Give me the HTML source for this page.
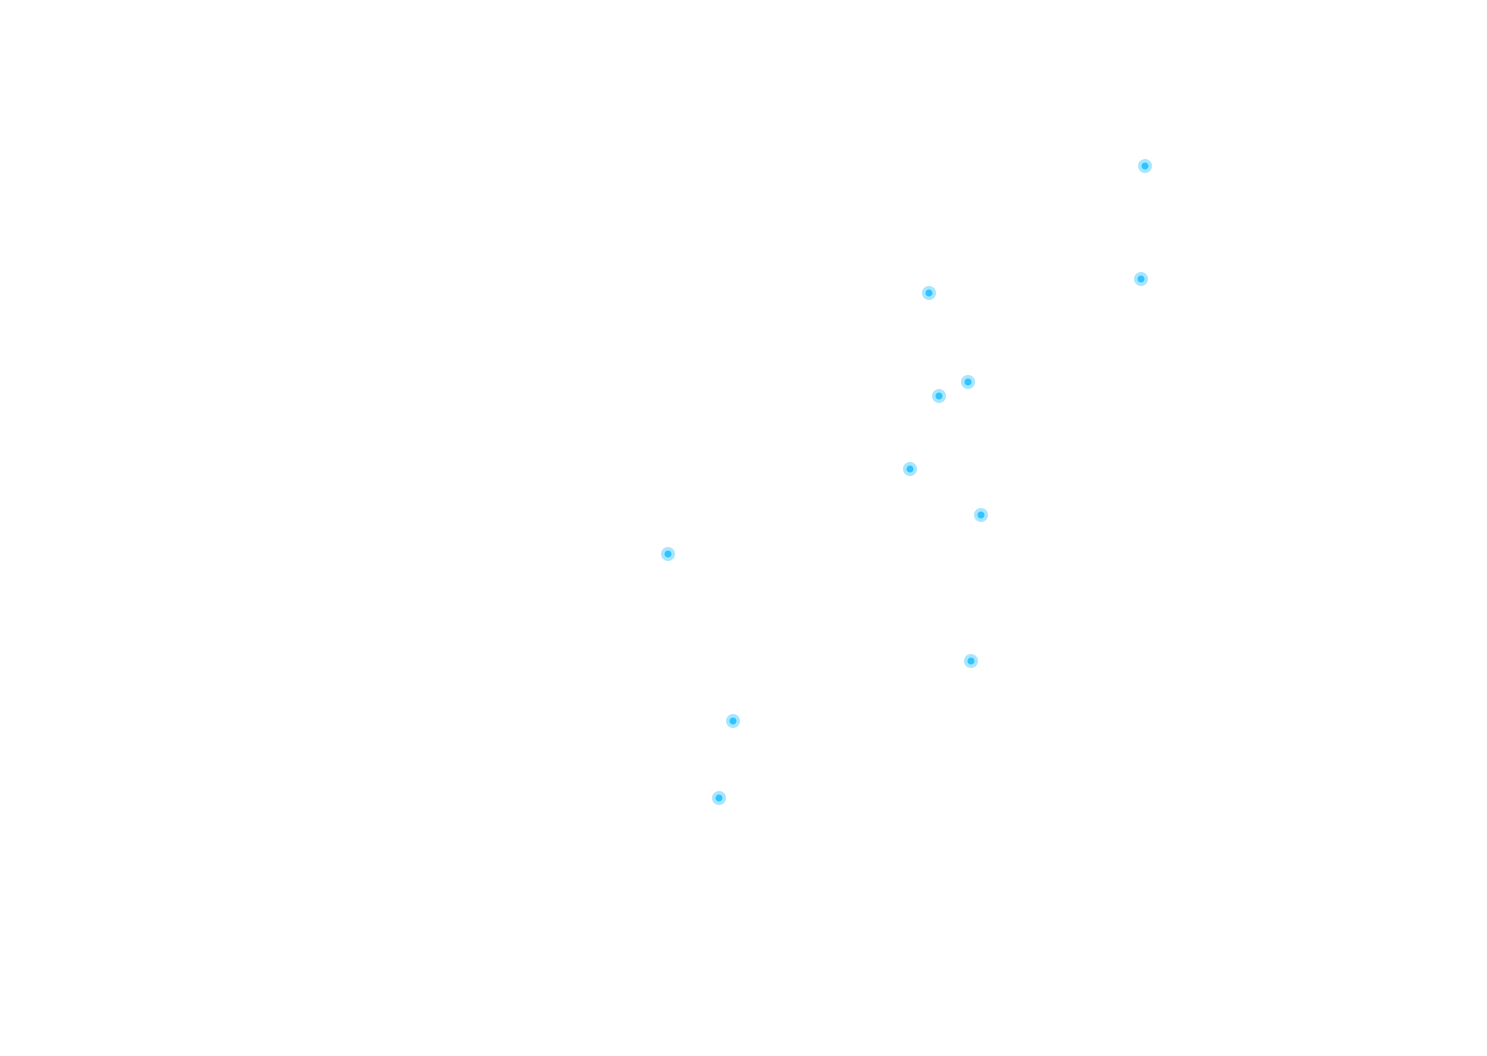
<!DOCTYPE html>
<html><head><style>html,body{margin:0;padding:0;background:#fff;width:1487px;height:1056px;overflow:hidden}</style></head>
<body>
<svg width="1487" height="1056" xmlns="http://www.w3.org/2000/svg">
<g>
<circle cx="1145" cy="166" r="7" fill="#a8e6ff"/><circle cx="1145" cy="166" r="3.5" fill="#2fc3ff"/>
<circle cx="1141" cy="279" r="7" fill="#a8e6ff"/><circle cx="1141" cy="279" r="3.5" fill="#2fc3ff"/>
<circle cx="929" cy="293" r="7" fill="#a8e6ff"/><circle cx="929" cy="293" r="3.5" fill="#2fc3ff"/>
<circle cx="968" cy="382" r="7" fill="#a8e6ff"/><circle cx="968" cy="382" r="3.5" fill="#2fc3ff"/>
<circle cx="939" cy="396" r="7" fill="#a8e6ff"/><circle cx="939" cy="396" r="3.5" fill="#2fc3ff"/>
<circle cx="910" cy="469" r="7" fill="#a8e6ff"/><circle cx="910" cy="469" r="3.5" fill="#2fc3ff"/>
<circle cx="981" cy="515" r="7" fill="#a8e6ff"/><circle cx="981" cy="515" r="3.5" fill="#2fc3ff"/>
<circle cx="668" cy="554" r="7" fill="#a8e6ff"/><circle cx="668" cy="554" r="3.5" fill="#2fc3ff"/>
<circle cx="971" cy="661" r="7" fill="#a8e6ff"/><circle cx="971" cy="661" r="3.5" fill="#2fc3ff"/>
<circle cx="733" cy="721" r="7" fill="#a8e6ff"/><circle cx="733" cy="721" r="3.5" fill="#2fc3ff"/>
<circle cx="719" cy="798" r="7" fill="#a8e6ff"/><circle cx="719" cy="798" r="3.5" fill="#2fc3ff"/>
</g>
</svg>
</body></html>
